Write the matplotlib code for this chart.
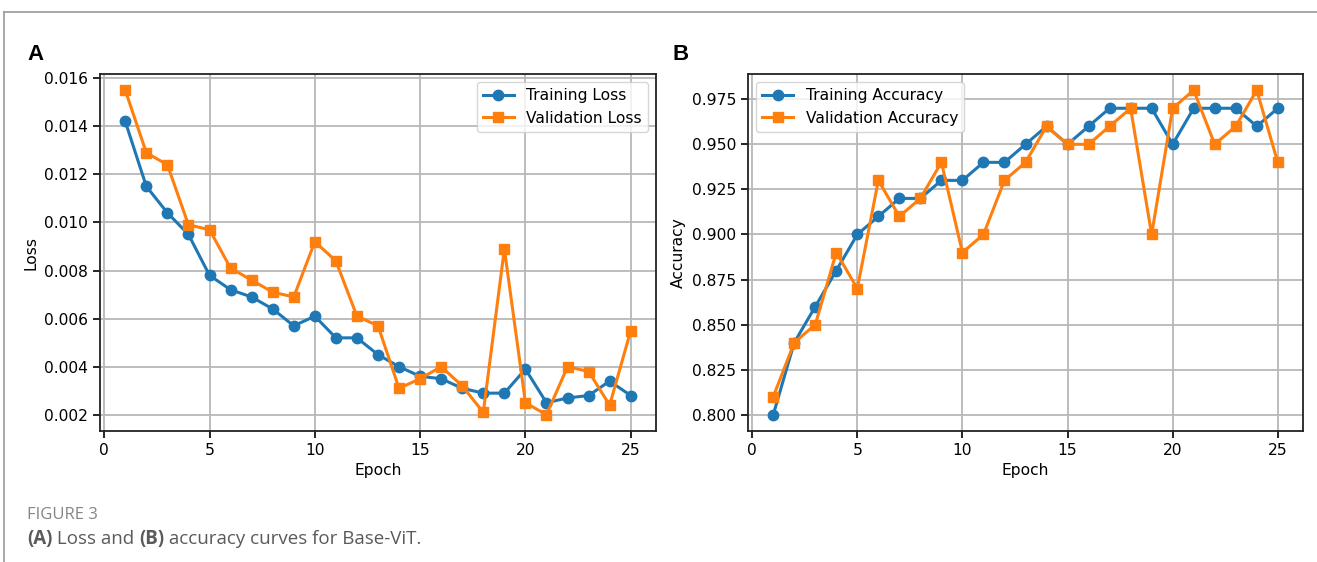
import matplotlib.pyplot as plt
from matplotlib.lines import Line2D

epochs = list(range(1, 26))
train_loss = [0.0142, 0.0115, 0.0104, 0.0095, 0.0078, 0.0072, 0.0069, 0.0064, 0.0057, 0.0061,
              0.0052, 0.0052, 0.0045, 0.0040, 0.0036, 0.0035, 0.0031, 0.0029, 0.0029, 0.0039,
              0.0025, 0.0027, 0.0028, 0.0034, 0.0028]
val_loss = [0.0155, 0.0129, 0.0124, 0.0099, 0.0097, 0.0081, 0.0076, 0.0071, 0.0069, 0.0092,
            0.0084, 0.0061, 0.0057, 0.0031, 0.0035, 0.0040, 0.0032, 0.0021, 0.0089, 0.0025,
            0.0020, 0.0040, 0.0038, 0.0024, 0.0055]
train_acc = [0.80, 0.84, 0.86, 0.88, 0.90, 0.91, 0.92, 0.92, 0.93, 0.93,
             0.94, 0.94, 0.95, 0.96, 0.95, 0.96, 0.97, 0.97, 0.97, 0.95,
             0.97, 0.97, 0.97, 0.96, 0.97]
val_acc = [0.81, 0.84, 0.85, 0.89, 0.87, 0.93, 0.91, 0.92, 0.94, 0.89,
           0.90, 0.93, 0.94, 0.96, 0.95, 0.95, 0.96, 0.97, 0.90, 0.97,
           0.98, 0.95, 0.96, 0.98, 0.94]
loss_ticks = [0.002, 0.004, 0.006, 0.008, 0.010, 0.012, 0.014, 0.016]

fs = 11.2
fig = plt.figure(figsize=(13.17, 5.62), dpi=100)

# page frame
fig.add_artist(Line2D([4/1317, 1], [1-12/562, 1-12/562], color='#9a9a9a', lw=1.2))
fig.add_artist(Line2D([4/1317, 4/1317], [0, 1-12/562], color='#9a9a9a', lw=1.2))

ax1 = fig.add_axes([100/1317, 1-431/562, 556/1317, 357/562])
ax2 = fig.add_axes([748/1317, 1-431/562, 555/1317, 357/562])

ax1.plot(epochs, train_loss, '-o', color='#1f77b4', lw=2.2, ms=7.5, label='Training Loss')
ax1.plot(epochs, val_loss, '-s', color='#ff7f0e', lw=2.2, ms=7.5, label='Validation Loss')
ax1.set_ylabel('Loss', fontsize=fs)
ax1.legend(loc='upper right', fontsize=fs, handlelength=2.0)

ax2.plot(epochs, train_acc, '-o', color='#1f77b4', lw=2.2, ms=7.5, label='Training Accuracy')
ax2.plot(epochs, val_acc, '-s', color='#ff7f0e', lw=2.2, ms=7.5, label='Validation Accuracy')
ax2.set_ylabel('Accuracy', fontsize=fs)
ax2.legend(loc='upper left', fontsize=fs, handlelength=2.0)

for ax in (ax1, ax2):
    ax.set_xlabel('Epoch', fontsize=fs)
    ax.grid(True, color='#b8b8b8', lw=1.3)
    ax.tick_params(labelsize=fs, width=1.2, length=5)
    ax.set_xticks([0, 5, 10, 15, 20, 25])
    for s in ax.spines.values():
        s.set_linewidth(1.3)
        s.set_color('#222222')

ax1.set_yticks(loss_ticks)
ax1.set_yticklabels([f'{v:.3f}' for v in loss_ticks])

fig.text(27/1317, 1-55/562, 'A', fontsize=16, fontweight='bold', family='Liberation Sans', va='center')
fig.text(673/1317, 1-55/562, 'B', fontsize=16, fontweight='bold', family='Liberation Sans', va='center')

fig.text(27/1317, 1-515/562, 'FIGURE 3', fontsize=12, color='#858585', family='Open Sans', va='center')

# caption with bold (A)/(B)
pieces = [('(A)', 'bold'), (' Loss and ', 'normal'), ('(B)', 'bold'),
          (' accuracy curves for Base-ViT.', 'normal')]
fig.canvas.draw()
r = fig.canvas.get_renderer()
x = 27
for s, w in pieces:
    t = fig.text(x/1317, 1-539/562, s, fontsize=13.5, color='#5a5a5a', family='Open Sans',
                 fontweight=w, va='center')
    x += t.get_window_extent(renderer=r).width

fig.savefig('out.png', dpi=100)
